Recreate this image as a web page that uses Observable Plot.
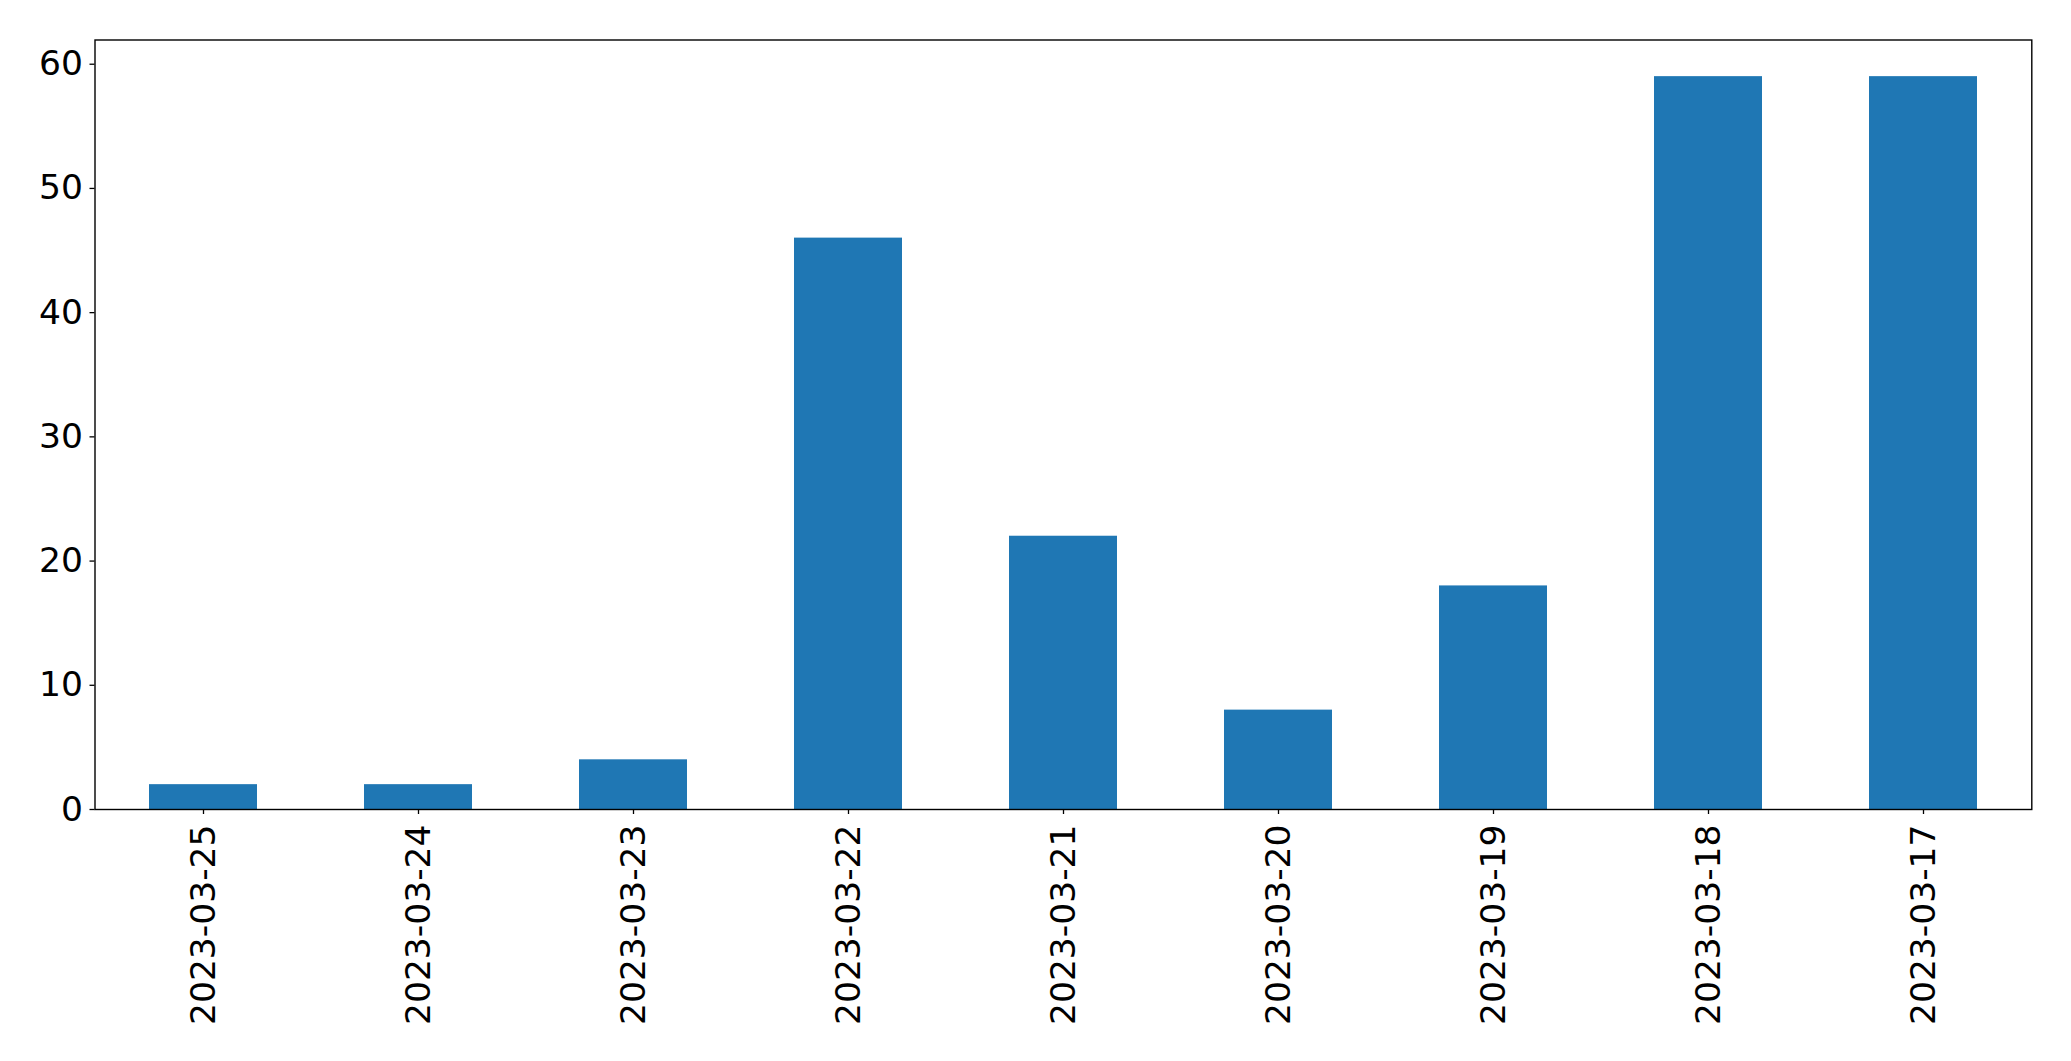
<!DOCTYPE html>
<html>
<head>
<meta charset="utf-8">
<script src="https://cdn.jsdelivr.net/npm/d3@7"></script>
<script src="https://cdn.jsdelivr.net/npm/@observablehq/plot@0.6"></script>
<style>
  html, body { margin: 0; padding: 0; background: #fff; overflow: hidden; }
  #chart svg { display: block; }
</style>
</head>
<body>
<div id="chart"></div>
<script>
const dates = ["2023-03-25", "2023-03-24", "2023-03-23", "2023-03-22", "2023-03-21", "2023-03-20", "2023-03-19", "2023-03-18", "2023-03-17"];
const counts = [2, 2, 4, 46, 22, 8, 18, 59, 59];
const yTicks = [0, 10, 20, 30, 40, 50, 60];

const data = dates.map((d, i) => ({date: d, count: counts[i]}));

const chart = Plot.plot({
  width: 2071,
  height: 1061,
  marginLeft: 94.5,
  marginRight: 39.7,
  marginTop: 39.5,
  marginBottom: 252,
  style: {fontFamily: "DejaVu Sans", fontSize: "34px", color: "black", background: "white"},
  x: {domain: dates, paddingInner: 0.5, paddingOuter: 0.25, label: null},
  y: {domain: [0, 61.95], label: null},
  marks: [
    Plot.barY(data, {x: "date", y: "count", fill: "#1f77b4"}),
    Plot.axisY({ticks: yTicks, tickSize: 5, tickPadding: 7, fontSize: 34.5, label: null, strokeWidth: 1.3, strokeOpacity: 1, stroke: "black"}),
    Plot.axisX({tickSize: 5, tickPadding: 10, tickRotate: -90, fontSize: 34.5, label: null, strokeWidth: 1.3, strokeOpacity: 1, stroke: "black"}),
    Plot.frame({stroke: "black", strokeWidth: 1.4})
  ]
});
document.getElementById("chart").appendChild(chart);
</script>
</body>
</html>
